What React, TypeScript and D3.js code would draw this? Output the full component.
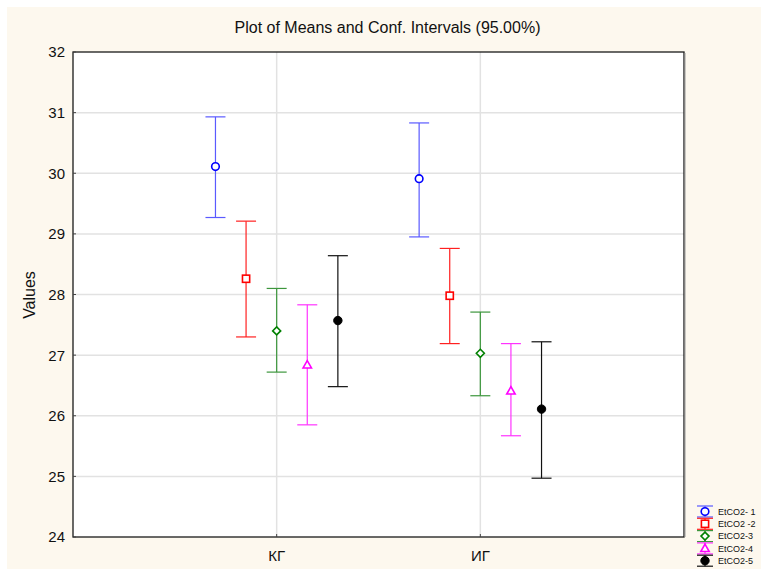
import React from "react";
import * as d3 from "d3";

const categories = ["КГ", "ИГ"];
const seriesNames = ["EtCO2- 1", "EtCO2 -2", "EtCO2-3", "EtCO2-4", "EtCO2-5"];
const means = [
  [30.11, 29.91],
  [28.26, 27.98],
  [27.4, 27.03],
  [26.84, 26.41],
  [27.57, 26.11],
];
const lowers = [
  [29.27, 28.95],
  [27.3, 27.19],
  [26.72, 26.33],
  [25.85, 25.67],
  [26.48, 24.97],
];
const uppers = [
  [30.93, 30.83],
  [29.21, 28.76],
  [28.1, 27.71],
  [27.83, 27.19],
  [28.64, 27.22],
];
const yTicks = [24, 25, 26, 27, 28, 29, 30, 31, 32];
const markerColors = ["#0000ff", "#ff0000", "#008000", "#ff00ff", "#000000"];
const barColors = ["#5a5aff", "#ff2020", "#3c963c", "#ff33ff", "#111111"];
const markerTypes = ["circle", "square", "diamond", "triangle", "dot"];

const W = 761, H = 571;
const L = 73, R = 684, T = 52, B = 537;
const FONT = "Liberation Sans, Arial, sans-serif";

function Marker({ type, x, y, color }: { type: string; x: number; y: number; color: string }) {
  const sw = 1.6;
  if (type === "circle") return <circle cx={x} cy={y} r={3.8} fill="white" stroke={color} strokeWidth={sw} />;
  if (type === "square") return <rect x={x - 3.6} y={y - 3.6} width={7.2} height={7.2} fill="white" stroke={color} strokeWidth={sw} />;
  if (type === "diamond") {
    const s = 4;
    return <path d={`M${x},${y - s}L${x + s},${y}L${x},${y + s}L${x - s},${y}Z`} fill="white" stroke={color} strokeWidth={sw} />;
  }
  if (type === "triangle") {
    const s = 4.2;
    return <path d={`M${x},${y - s}L${x + s},${y + s * 0.75}L${x - s},${y + s * 0.75}Z`} fill="white" stroke={color} strokeWidth={sw} />;
  }
  return <circle cx={x} cy={y} r={4.2} fill={color} stroke={color} strokeWidth={1} />;
}

export default function App() {
  const y = d3.scaleLinear().domain([24, 32]).range([B, T]);
  const x = d3.scalePoint<string>().domain(categories).range([L, R]).padding(1);
  const off = d3.scalePoint<number>().domain(d3.range(seriesNames.length)).range([-61.2, 61.2]);
  const capHalf = 10;

  return (
    <svg width={W} height={H} style={{ position: "absolute", left: 0, top: 0 }} fontFamily={FONT}>
      <rect x={0} y={0} width={W} height={H} fill="#ffffff" />
      <rect x={7} y={7} width={W - 7} height={H - 9} fill="#fdf8ee" />
      <rect x={L} y={T} width={R - L} height={B - T} fill="#ffffff" />
      {yTicks.slice(1, -1).map((t) => (
        <line key={"gy" + t} x1={L} x2={R} y1={y(t)} y2={y(t)} stroke="#e2e2e2" strokeWidth={1.5} />
      ))}
      {categories.map((c) => (
        <line key={"gx" + c} x1={x(c)} x2={x(c)} y1={T} y2={B} stroke="#e2e2e2" strokeWidth={1.5} />
      ))}
      <rect x={L} y={T} width={R - L} height={B - T} fill="none" stroke="#1a1a1a" strokeWidth={1.3} />
      <line x1={R + 1} x2={R + 1} y1={T + 1} y2={B} stroke="#999" strokeWidth={1} />
      {yTicks.map((t) => (
        <g key={"yt" + t}>
          <line x1={L} x2={L + 3} y1={y(t)} y2={y(t)} stroke="#444" />
          <text x={65} y={y(t)} dy="0.36em" textAnchor="end" fontSize={15} fill="#111">{t}</text>
        </g>
      ))}
      {categories.map((c) => (
        <g key={"xt" + c}>
          <line x1={x(c)} x2={x(c)} y1={B} y2={B - 3} stroke="#444" />
          <text x={x(c)} y={561} textAnchor="middle" fontSize={15} fill="#111">{c}</text>
        </g>
      ))}
      <text x={387.5} y={33} textAnchor="middle" fontSize={16} fill="#111">Plot of Means and Conf. Intervals (95.00%)</text>
      <text transform={`translate(35,295) rotate(-90)`} textAnchor="middle" fontSize={16} fill="#111">Values</text>
      {seriesNames.map((s, i) =>
        categories.map((c, j) => {
          const cx = (x(c) as number) + (off(i) as number);
          const yl = y(lowers[i][j]), yu = y(uppers[i][j]), ym = y(means[i][j]);
          return (
            <g key={s + c}>
              <line x1={cx} x2={cx} y1={yu} y2={yl} stroke={barColors[i]} strokeWidth={1.2} />
              <line x1={cx - capHalf} x2={cx + capHalf} y1={yu} y2={yu} stroke={barColors[i]} strokeWidth={1.2} />
              <line x1={cx - capHalf} x2={cx + capHalf} y1={yl} y2={yl} stroke={barColors[i]} strokeWidth={1.2} />
              <Marker type={markerTypes[i]} x={cx} y={ym} color={markerColors[i]} />
            </g>
          );
        })
      )}
      {seriesNames.map((s, i) => {
        const ly = 511.5 + i * 12.3;
        return (
          <g key={"lg" + s}>
            <line x1={697} x2={713} y1={ly - 5.5} y2={ly - 5.5} stroke={barColors[i]} strokeWidth={1.2} />
            <line x1={697} x2={713} y1={ly + 5.5} y2={ly + 5.5} stroke={barColors[i]} strokeWidth={1.2} />
            <line x1={705} x2={705} y1={ly - 5.5} y2={ly + 5.5} stroke={barColors[i]} strokeWidth={1.2} />
            <Marker type={markerTypes[i]} x={705} y={ly} color={markerColors[i]} />
            <text x={718} y={ly} dy="0.35em" fontSize={9} fill="#111">{s}</text>
          </g>
        );
      })}
    </svg>
  );
}
